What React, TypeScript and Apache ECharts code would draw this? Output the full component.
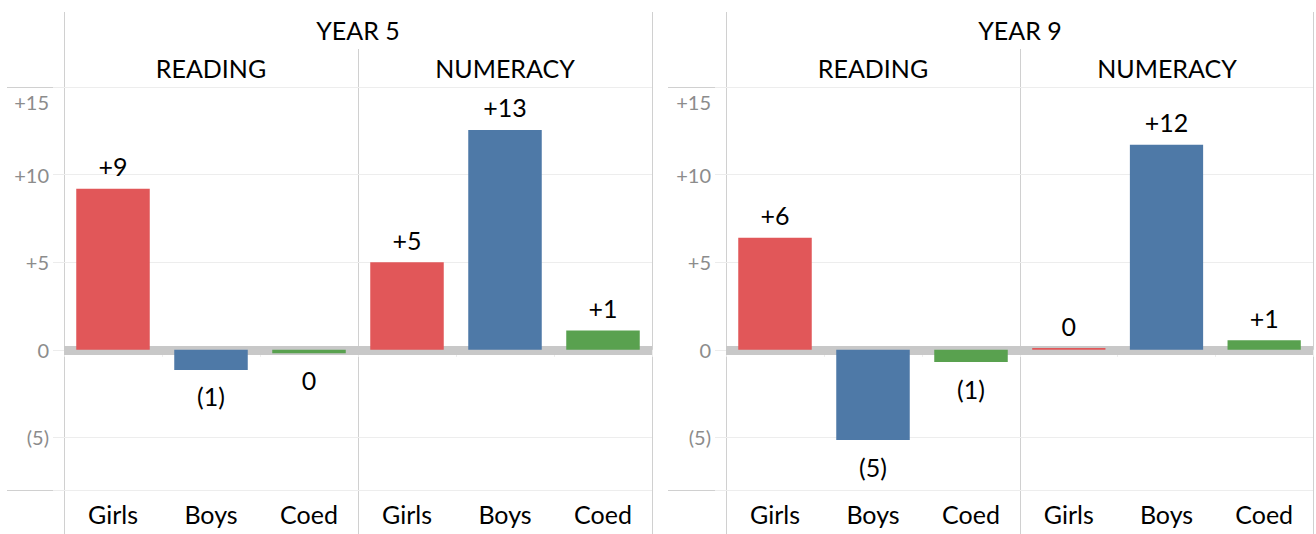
import React, { useEffect, useRef } from "react";
import * as echarts from "echarts";

const categories = ["Girls", "Boys", "Coed"];
const year5Reading = [9.2, -1.15, -0.2];
const year5Numeracy = [5.0, 12.55, 1.1];
const year9Reading = [6.4, -5.15, -0.7];
const year9Numeracy = [0.1, 11.7, 0.55];
const yearTitles = ["YEAR 5", "YEAR 9"];
const subjectTitles = ["READING", "NUMERACY"];
const categoryColors = ["#E15759", "#4E79A7", "#59A14F"];

const FONT = "Lato";
const LINE = "#d0d0d0";

function fmt(v: number): string {
  const r = Math.round(v);
  if (r > 0) return "+" + r;
  if (r < 0) return "(" + Math.abs(r) + ")";
  return "0";
}

export default function App() {
  const ref = useRef<HTMLDivElement>(null);
  useEffect(() => {
    if (!ref.current) return;
    const chart = echarts.init(ref.current, undefined, { renderer: "svg" });
    const panels = [year5Reading, year5Numeracy, year9Reading, year9Numeracy];
    const gridLefts = [64, 358, 726, 1020];
    const gridWidths = [294, 294, 294, 293];
    const top = 87;
    const bottom = 490;

    const grids = panels.map((_, i) => ({
      left: gridLefts[i],
      width: gridWidths[i],
      top,
      height: bottom - top,
      containLabel: false,
    }));

    const xAxes = panels.map((_, i) => ({
      type: "category",
      gridIndex: i,
      data: categories,
      axisLine: { show: false },
      axisTick: { show: true, length: 7, lineStyle: { color: "#ececec" } },
      axisLabel: { fontFamily: FONT, fontSize: 25, color: "#000", margin: 11 },
      splitLine: { show: false },
    }));

    const yAxes = panels.map((_, i) => {
      const showLabels = i % 2 === 0;
      return {
        type: "value",
        gridIndex: i,
        min: -8,
        max: 15,
        splitNumber: 5,
        axisLine: { show: false },
        axisTick: { show: showLabels, length: 11, lineStyle: { color: "#ececec" } },
        axisLabel: {
          show: showLabels,
          fontFamily: FONT,
          fontSize: 20,
          color: "#8c8c8c",
          margin: 15,
          formatter: (v: number) => {
            if (v % 5 !== 0) return "";
            if (v === 15) return "{top|+15}";
            return fmt(v);
          },
          rich: {
            top: { fontFamily: FONT, fontSize: 20, color: "#8c8c8c", padding: [30, 0, 0, 0] },
          },
        },
        splitLine: { show: true, lineStyle: { color: "#ededed", width: 1 } },
      };
    });

    const series = panels.map((vals, i) => ({
      type: "bar",
      xAxisIndex: i,
      yAxisIndex: i,
      barWidth: "75%",
      z: 3,
      data: vals.map((v, j) => ({
        value: v,
        itemStyle: { color: categoryColors[j] },
        label: v >= 0 ? { position: "top", distance: 10 } : { position: "bottom", distance: 14 },
      })),
      label: {
        show: true,
        fontFamily: FONT,
        fontSize: 25,
        color: "#000",
        formatter: (p: any) => fmt(p.value),
      },
      markLine: {
        silent: true,
        z: 1,
        symbol: "none",
        label: { show: false },
        lineStyle: { color: "#c8c8c8", width: 9, type: "solid" },
        data: [{ yAxis: 0 }],
      },
    }));

    const ln = (x1: number, y1: number, x2: number, y2: number) => ({
      type: "line",
      silent: true,
      z: 0,
      shape: { x1, y1, x2, y2 },
      style: { stroke: LINE, lineWidth: 1 },
    });
    const txt = (text: string, x: number, y: number) => ({
      type: "text",
      silent: true,
      x,
      y,
      style: {
        text,
        fontFamily: FONT,
        fontSize: 25,
        fill: "#000",
        align: "center",
        verticalAlign: "middle",
      },
    });

    const graphic: any[] = [
      ln(64.5, 12, 64.5, 534),
      ln(358.5, 49, 358.5, 534),
      ln(652.5, 12, 652.5, 534),
      ln(7, 87.5, 652, 87.5),
      ln(7, 490.5, 652, 490.5),
      ln(726.5, 12, 726.5, 534),
      ln(1020.5, 49, 1020.5, 534),
      ln(1313.5, 12, 1313.5, 534),
      ln(668, 87.5, 1313, 87.5),
      ln(668, 490.5, 1313, 490.5),
      txt(yearTitles[0], 358, 30),
      txt(yearTitles[1], 1020, 30),
      txt(subjectTitles[0], 211, 68),
      txt(subjectTitles[1], 505, 68),
      txt(subjectTitles[0], 873, 68),
      txt(subjectTitles[1], 1167, 68),
    ];

    chart.setOption({
      animation: false,
      backgroundColor: "#fff",
      grid: grids,
      xAxis: xAxes,
      yAxis: yAxes,
      series,
      graphic,
    });
    return () => chart.dispose();
  }, []);
  return (
    <div
      ref={ref}
      style={{ position: "fixed", left: 0, top: 0, width: 1316, height: 534, background: "#fff" }}
    />
  );
}
